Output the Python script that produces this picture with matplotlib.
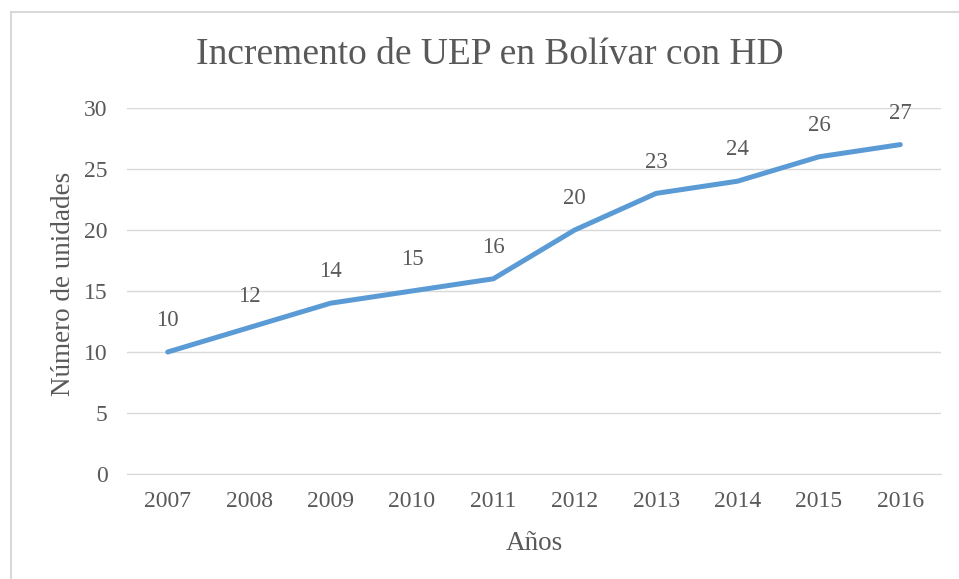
import matplotlib
matplotlib.use("Agg")
import matplotlib.pyplot as plt
from matplotlib.patches import Rectangle

years = ["2007", "2008", "2009", "2010", "2011", "2012", "2013", "2014", "2015", "2016"]
unidades = [10, 12, 14, 15, 16, 20, 23, 24, 26, 27]
yticks = [0, 5, 10, 15, 20, 25, 30]

plt.rcParams['font.family'] = ['Liberation Serif', 'DejaVu Serif']
txt = '#595959'

fig = plt.figure(figsize=(9.59, 5.79), dpi=100)
ax = fig.add_axes([127/959, 1-474/579, (941-127)/959, (474-108)/579])

# outer border
fig.patches.append(Rectangle((10.5/959, -0.1), 1.2, 1 - 11.5/579 + 0.1, transform=fig.transFigure,
                             fill=False, edgecolor='#d9d9d9', linewidth=1.5))

x = list(range(len(years)))
ax.plot(x, unidades, color='#5b9bd5', linewidth=3.6, solid_capstyle='round', zorder=3)
for xi, v in zip(x, unidades):
    ax.annotate(str(v), (xi, v), xytext=(0, 15), textcoords='offset points',
                ha='center', va='bottom', fontsize=16.5, color=txt)

ax.set_xlim(-0.5, len(years) - 0.5)
ax.set_ylim(0, 30)
ax.set_yticks(yticks)
ax.set_xticks(x)
ax.set_xticklabels(years)
ax.grid(axis='y', color='#d9d9d9', linewidth=1)
ax.set_axisbelow(True)
for s in ['top', 'right', 'left']:
    ax.spines[s].set_visible(False)
ax.spines['bottom'].set_color('#d9d9d9')
ax.tick_params(axis='both', length=0, labelsize=17, colors=txt)
ax.tick_params(axis='y', pad=14)
ax.tick_params(axis='x', pad=12)

fig.text(63/959, 1-284/579, 'Número de unidades', rotation=90, ha='center', va='center',
         fontsize=19.5, color=txt)
fig.text(534/959, 1-543/579, 'Años', ha='center', va='center', fontsize=19.5, color=txt)
fig.text(490/959, 1-55/579, 'Incremento de UEP en Bolívar con HD', ha='center', va='center',
         fontsize=27, color=txt)

fig.savefig('out.png', dpi=100)
